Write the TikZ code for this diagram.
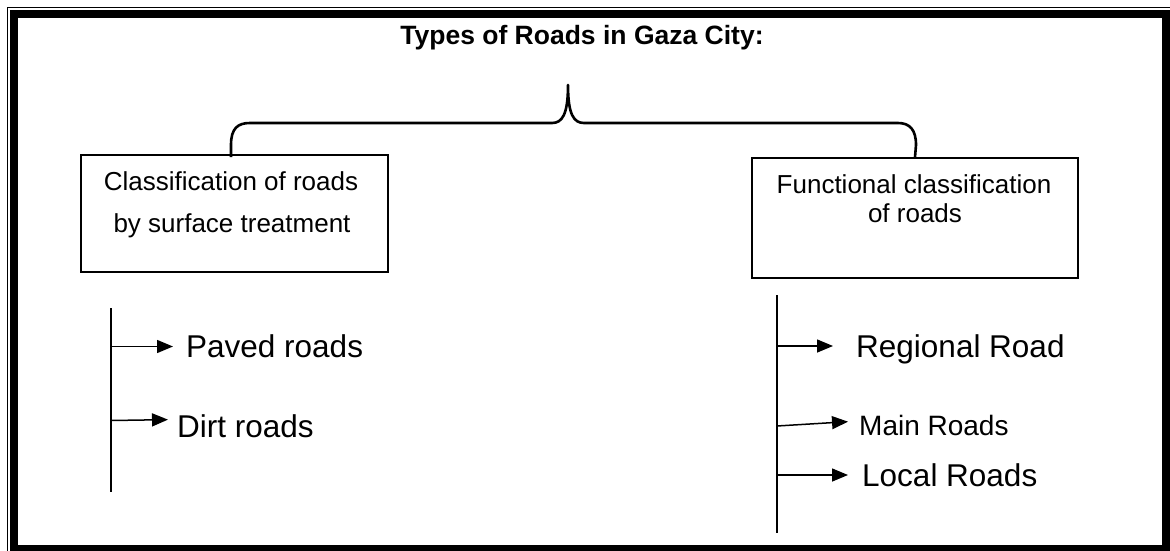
\documentclass[tikz,border=0pt]{standalone}
\usepackage{fontspec}
\setmainfont{Liberation Sans}
\usetikzlibrary{arrows.meta}
\begin{document}
\begin{tikzpicture}[x=1pt,y=-1pt,
  box/.style={draw, line width=1.8pt, inner sep=0pt},
  boxtext/.style={font=\fontsize{26}{30}\selectfont, inner sep=0pt, anchor=base},
  item/.style={font=\fontsize{31.5}{36}\selectfont, inner sep=0pt, anchor=west,
    text height=22.6pt, text depth=0pt},
  smallitem/.style={item, font=\fontsize{28}{32}\selectfont, text height=20pt},
  trunk/.style={line width=1.6pt},
  link/.style={line width=1.5pt, -{Triangle[length=16pt,width=13pt]}},
  brace/.style={line width=2.6pt, line join=round}
]
\useasboundingbox (0,0) rectangle (1170,551);
\clip (0,0) rectangle (1170,551);

% page frame: thin outer rule and thick inner rule
\draw[line width=1.6pt] (7.5,7.5) rectangle (1173,557);
\draw[line width=8pt] (14,14) rectangle (1166,549);

% title
\node[font=\fontsize{26.5}{30}\selectfont\bfseries, anchor=base, inner sep=0pt]
  (title) at (582,45) {Types of Roads in Gaza City:};

% the two classification boxes
\node[box, minimum width=307pt, minimum height=117pt] (lbox) at (234.5,213.5) {};
\node[box, minimum width=326pt, minimum height=120pt] (rbox) at (915,218) {};

\node[boxtext] (lt1) at (231,190) {Classification of roads};
\node[boxtext] (lt2) at (232,232) {by surface treatment};
\node[boxtext] (rt1) at (914,193) {Functional classification};
\node[boxtext] (rt2) at (915,222) {of roads};

% curly brace joining the two boxes
\draw[brace] ([xshift=-3.5pt,yshift=-3pt]lbox.north) -- (231,145)
  .. controls (231,128) and (238,123) .. (250,123) -- (552,123)
  .. controls (562,123) and (568,115) .. (568,85)
  .. controls (568,115) and (574,123) .. (584,123) -- (898,123)
  .. controls (910,123) and (916,130) .. (916,145) -- (rbox.north);

% left branch
\coordinate (ltop) at (111,308);
\coordinate (lbot) at (111,492);
\draw[trunk] (ltop) -- (lbot);

\node[item] (paved) at (186,346.5) {Paved roads};
\node[item] (dirt) at (177,426.5) {Dirt roads};
\draw[link, shorten >=13pt] (paved.west -| ltop) -- (paved.west);
\draw[link, shorten >=9pt] ([yshift=6pt]dirt.west -| ltop) -- ([yshift=7pt]dirt.west);

% right branch
\coordinate (rtop) at (777,295);
\coordinate (rbot) at (777,533);
\draw[trunk] (rtop) -- (rbot);

\node[item] (regional) at (856,346) {Regional Road};
\node[smallitem] (main) at (859,425) {Main Roads};
\node[item] (local) at (862,475) {Local Roads};
\draw[link, shorten >=23pt] (regional.west -| rtop) -- (regional.west);
\draw[link, shorten >=11pt] ([yshift=-1pt]main.west -| rtop) -- ([yshift=4pt]main.west);
\draw[link, shorten >=14pt] (local.west -| rtop) -- (local.west);
\end{tikzpicture}
\end{document}
